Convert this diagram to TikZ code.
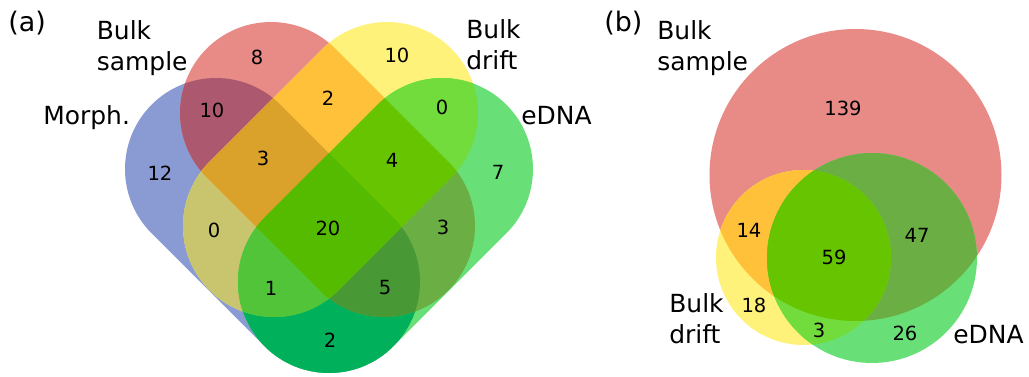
\documentclass[tikz,border=0pt]{standalone}
\usepackage{fontspec}
\setmainfont{DejaVu Sans}

% region colours: single sets, then every overlap
\definecolor{cM}{RGB}{138,154,210}
\definecolor{cS}{RGB}{232,139,135}
\definecolor{cD}{RGB}{255,242,122}
\definecolor{cE}{RGB}{104,224,119}
\definecolor{cMS}{RGB}{172,88,110}
\definecolor{cSD}{RGB}{255,193,58}
\definecolor{cDE}{RGB}{114,220,60}
\definecolor{cMD}{RGB}{201,196,110}
\definecolor{cME}{RGB}{0,176,90}
\definecolor{cSE}{RGB}{106,174,68}
\definecolor{cMSD}{RGB}{218,162,42}
\definecolor{cMSE}{RGB}{72,153,54}
\definecolor{cMDE}{RGB}{82,196,58}
\definecolor{cSDE}{RGB}{102,196,0}
\definecolor{cALL}{RGB}{85,187,0}

% stadium: segment from (#1,#2) to (#3,#4) (y measured downwards), direction #5, cap radius 91
\newcommand\stad[5]{(#1,-#2) ++(#5-90:91) -- ++(#3-#1,#2-#4)
  arc[start angle=#5-90,end angle=#5+90,radius=91] -- ++(#1-#3,#4-#2)
  arc[start angle=#5+90,end angle=#5+270,radius=91] -- cycle}

\def\pM{\stad{216}{169}{329}{282}{-45}}
\def\pS{\stad{271}{113}{384}{226}{-45}}
\def\pD{\stad{387}{113}{274}{226}{-135}}
\def\pE{\stad{442}{169}{329}{282}{-135}}

\def\bS{(855.5,-175) circle[radius=146]}
\def\bD{(803.5,-257.5) circle[radius=87.5]}
\def\bE{(872,-258) circle[radius=105]}

\newcommand\pairfill[3]{\begin{scope}\clip #1;\fill[#3] #2;\end{scope}}
\newcommand\triplefill[4]{\begin{scope}\clip #1;\clip #2;\fill[#4] #3;\end{scope}}
\newcommand\quadfill[5]{\begin{scope}\clip #1;\clip #2;\clip #3;\fill[#5] #4;\end{scope}}

\tikzset{
  lab/.style={font=\fontsize{14.2}{18.1}\selectfont, inner sep=0pt, anchor=base west},
  tag/.style={font=\fontsize{15.3}{18}\selectfont, inner sep=0pt, anchor=base west},
  num/.style={font=\fontsize{11.1}{13}\selectfont, inner sep=0pt}
}

\begin{document}
\begin{tikzpicture}[x=0.02cm,y=0.02cm]
\useasboundingbox (0,0) rectangle (1029,-376);

% ---- (a) four-set diagram ----
\fill[cM] \pM; \fill[cS] \pS; \fill[cD] \pD; \fill[cE] \pE;
\pairfill{\pM}{\pS}{cMS}
\pairfill{\pM}{\pD}{cMD}
\pairfill{\pM}{\pE}{cME}
\pairfill{\pS}{\pD}{cSD}
\pairfill{\pS}{\pE}{cSE}
\pairfill{\pD}{\pE}{cDE}
\triplefill{\pM}{\pS}{\pD}{cMSD}
\triplefill{\pM}{\pS}{\pE}{cMSE}
\triplefill{\pM}{\pD}{\pE}{cMDE}
\triplefill{\pS}{\pD}{\pE}{cSDE}
\quadfill{\pM}{\pS}{\pD}{\pE}{cALL}

\node[tag] (taga) at (8,-31) {(a)};
\node[lab] (labS) at (96.5,-39) {\begin{tabular}[t]{@{}l@{}}Bulk\\sample\end{tabular}};
\node[lab] (labM) at (43,-124) {Morph.};
\node[lab] (labD) at (466,-38) {\begin{tabular}[t]{@{}l@{}}Bulk\\drift\end{tabular}};
\node[lab] (labE) at (521,-124) {eDNA};

\node[num] (nS) at (257,-57) {8};
\node[num] (nD) at (397,-55) {10};
\node[num] (nMS) at (212,-110) {10};
\node[num] (nSD) at (328,-98) {2};
\node[num] (nDE) at (442,-107) {0};
\node[num] (nM) at (160,-173) {12};
\node[num] (nMSD) at (263,-158) {3};
\node[num] (nSDE) at (392,-160) {4};
\node[num] (nE) at (498,-172) {7};
\node[num] (nMD) at (214,-230) {0};
\node[num] (nALL) at (328,-228) {20};
\node[num] (nSE) at (443,-227) {3};
\node[num] (nMDE) at (271,-288) {1};
\node[num] (nMSE) at (385,-288) {5};
\node[num] (nME) at (330,-340) {2};

% ---- (b) three-set diagram ----
\fill[cS] \bS; \fill[cD] \bD; \fill[cE] \bE;
\pairfill{\bS}{\bD}{cSD}
\pairfill{\bS}{\bE}{cSE}
\pairfill{\bD}{\bE}{cDE}
\triplefill{\bS}{\bD}{\bE}{cSDE}

\node[tag] (tagb) at (604,-31) {(b)};
\node[lab] (blabS) at (657,-39) {\begin{tabular}[t]{@{}l@{}}Bulk\\sample\end{tabular}};
\node[lab] (blabD) at (669,-312) {\begin{tabular}[t]{@{}l@{}}Bulk\\drift\end{tabular}};
\node[lab] (blabE) at (953,-343) {eDNA};

\node[num] (bS) at (843,-108) {139};
\node[num] (bSD) at (749,-230) {14};
\node[num] (bSE) at (917,-235) {47};
\node[num] (bALL) at (834,-257) {59};
\node[num] (bD) at (754,-305) {18};
\node[num] (bDE) at (819,-330) {3};
\node[num] (bE) at (905,-333) {26};
\end{tikzpicture}
\end{document}
